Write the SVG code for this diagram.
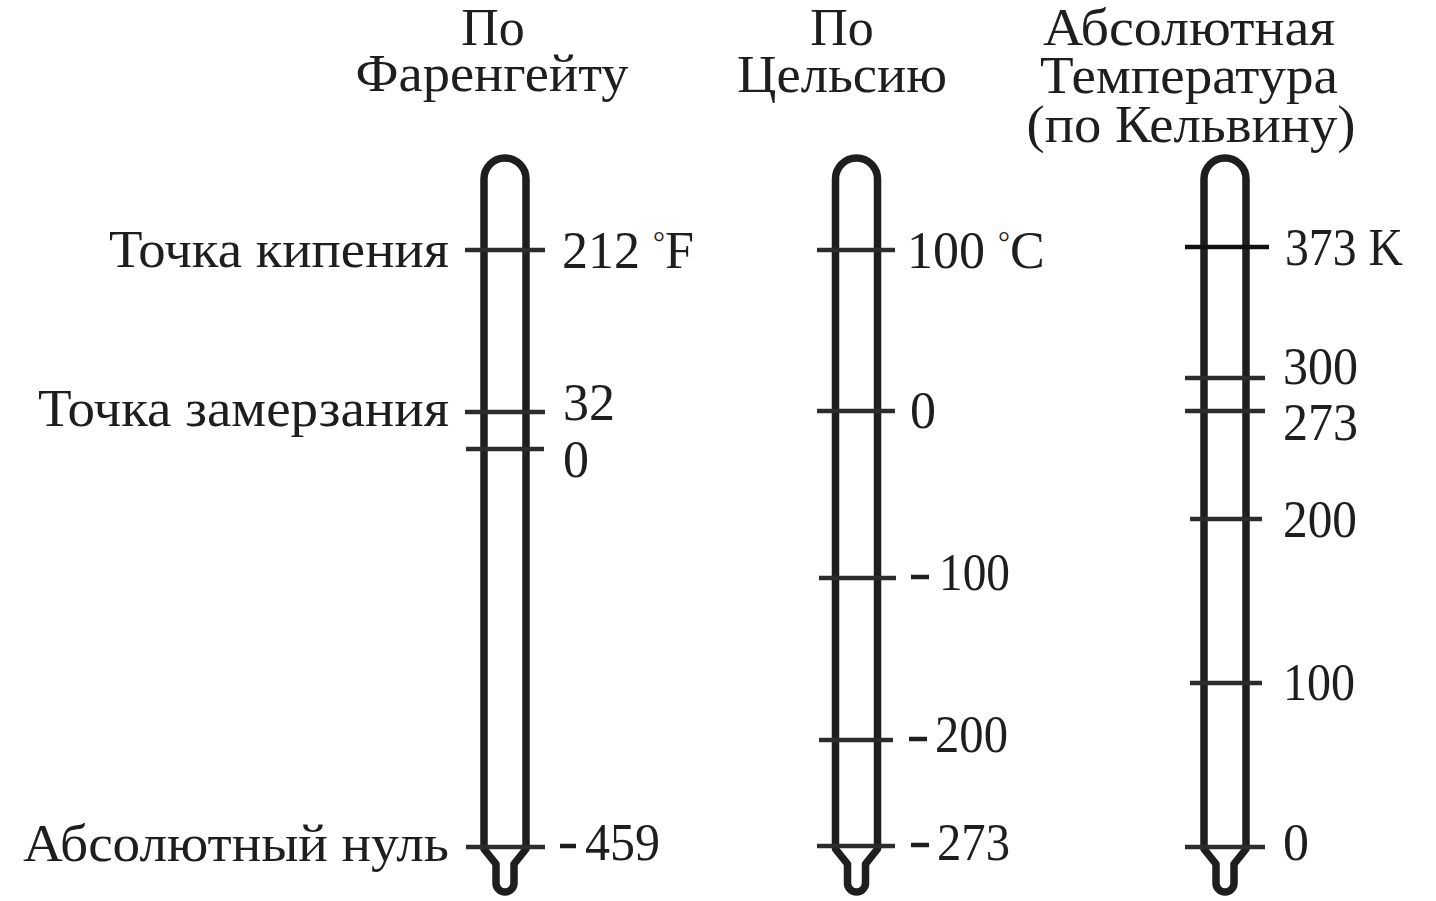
<svg xmlns="http://www.w3.org/2000/svg" width="1436" height="901" viewBox="0 0 1436 901">
<style>
text{font-family:"Liberation Serif","Times New Roman",serif;font-size:52px;fill:#1e1e1e}
.c{text-anchor:middle}
.r{text-anchor:end}
.tube{fill:none;stroke:#1e1e1e;stroke-width:7.5;stroke-linejoin:round}
.tick{stroke:#2c2c2c;stroke-width:4.5}
.dash{stroke:#1e1e1e;stroke-width:4.5}
</style>
<defs>
<path id="therm" class="tube" d="M-21,179 A21,21 0 0 1 21,179 L21,849 L9,864 L9,883 A9,9 0 0 1 -9,883 L-9,864 L-21,849 Z"/>
</defs>
<rect width="1436" height="901" fill="#fff"/>
<g id="fahrenheit">
<text class="c" x="493" y="45">По</text>
<text class="c" x="492" y="91" textLength="273" lengthAdjust="spacingAndGlyphs">Фаренгейту</text>
<use href="#therm" x="505" y="0"/>
<line class="tick" x1="465" y1="250" x2="545" y2="250"/>
<line class="tick" x1="465" y1="412" x2="545" y2="412"/>
<line class="tick" x1="466" y1="449" x2="544" y2="449"/>
<line class="tick" x1="466" y1="847" x2="545" y2="847"/>
<text class="r" x="449" y="267" textLength="340" lengthAdjust="spacingAndGlyphs">Точка кипения</text>
<text class="r" x="449" y="426" textLength="411" lengthAdjust="spacingAndGlyphs">Точка замерзания</text>
<text class="r" x="449" y="861" textLength="426" lengthAdjust="spacingAndGlyphs">Абсолютный нуль</text>
<text x="562" y="268">212 <tspan font-size="30" dy="-16">°</tspan><tspan dy="16">F</tspan></text>
<text x="563" y="420">32</text>
<text x="563" y="477">0</text>
<line class="dash" x1="560" y1="846" x2="576" y2="846"/>
<text x="585" y="860" textLength="75" lengthAdjust="spacingAndGlyphs">459</text>
</g>
<g id="celsius">
<text class="c" x="842" y="45">По</text>
<text class="c" x="842" y="92" textLength="210" lengthAdjust="spacingAndGlyphs">Цельсию</text>
<use href="#therm" x="856.5" y="0"/>
<line class="tick" x1="817" y1="250" x2="895" y2="250"/>
<line class="tick" x1="817" y1="411" x2="895" y2="411"/>
<line class="tick" x1="819" y1="578" x2="896" y2="578"/>
<line class="tick" x1="819" y1="740" x2="893" y2="740"/>
<line class="tick" x1="817" y1="846" x2="895" y2="846"/>
<text x="907" y="268">100 <tspan font-size="30" dy="-16">°</tspan><tspan dy="16">C</tspan></text>
<text x="910" y="428">0</text>
<line class="dash" x1="911" y1="577" x2="929" y2="577"/>
<text x="939" y="590" textLength="71" lengthAdjust="spacingAndGlyphs">100</text>
<line class="dash" x1="909" y1="739" x2="927" y2="739"/>
<text x="935" y="752" textLength="73" lengthAdjust="spacingAndGlyphs">200</text>
<line class="dash" x1="911" y1="845" x2="929" y2="845"/>
<text x="937" y="860" textLength="73" lengthAdjust="spacingAndGlyphs">273</text>
</g>
<g id="kelvin">
<text class="c" x="1189" y="45" textLength="292" lengthAdjust="spacingAndGlyphs">Абсолютная</text>
<text class="c" x="1189" y="93" textLength="298" lengthAdjust="spacingAndGlyphs">Температура</text>
<text class="c" x="1191" y="142" textLength="329" lengthAdjust="spacingAndGlyphs">(по Кельвину)</text>
<use href="#therm" x="1225" y="0"/>
<line class="tick" style="stroke:#111" x1="1185" y1="247" x2="1269" y2="247"/>
<line class="tick" x1="1185" y1="378" x2="1265" y2="378"/>
<line class="tick" x1="1185" y1="411" x2="1265" y2="411"/>
<line class="tick" x1="1190" y1="519" x2="1262" y2="519"/>
<line class="tick" x1="1190" y1="683" x2="1262" y2="683"/>
<line class="tick" x1="1185" y1="847" x2="1265" y2="847"/>
<text x="1285" y="265" textLength="118" lengthAdjust="spacingAndGlyphs">373 K</text>
<text x="1283" y="384" textLength="75" lengthAdjust="spacingAndGlyphs">300</text>
<text x="1283" y="440" textLength="75" lengthAdjust="spacingAndGlyphs">273</text>
<text x="1283" y="537" textLength="74" lengthAdjust="spacingAndGlyphs">200</text>
<text x="1283" y="700" textLength="72" lengthAdjust="spacingAndGlyphs">100</text>
<text x="1283" y="860">0</text>
</g>
</svg>
